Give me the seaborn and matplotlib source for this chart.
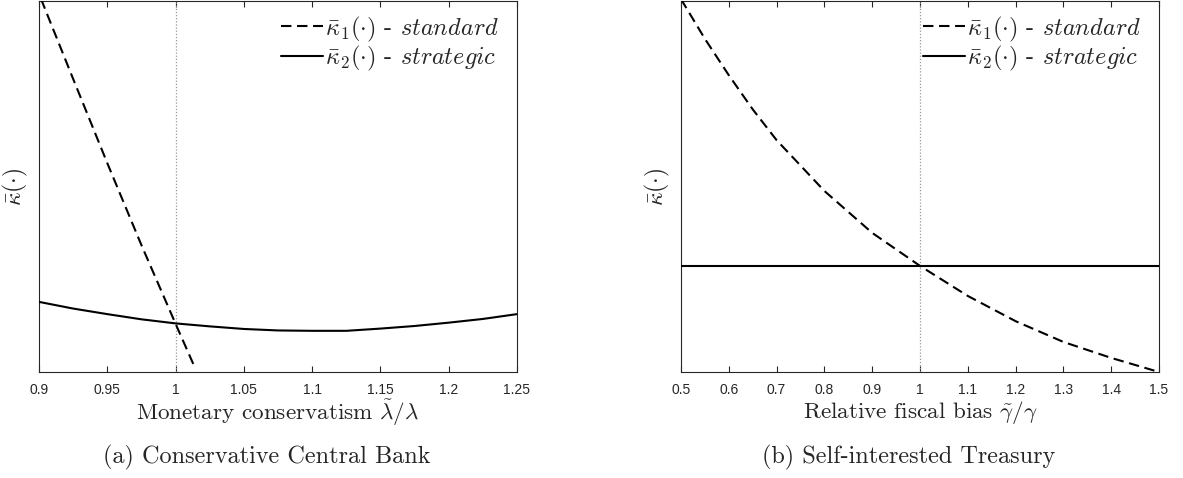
import numpy as np
import pandas as pd
import matplotlib
matplotlib.use("Agg")
import matplotlib.pyplot as plt
import seaborn as sns

# ---- data (kappa in arbitrary units, 0..1 = plot height) ----
# (a) Conservative Central Bank
cb_x_std = [0.9, 0.925, 0.95, 0.975, 1.0, 1.014]
cb_k1_std = [1.019, 0.790, 0.563, 0.342, 0.130, 0.013]
cb_x_str = [0.9, 0.925, 0.95, 0.975, 1.0, 1.025, 1.05, 1.075, 1.1, 1.125,
            1.15, 1.175, 1.2, 1.225, 1.25]
cb_k2_str = [0.189, 0.171, 0.156, 0.142, 0.131, 0.123, 0.116, 0.112, 0.111, 0.111,
             0.117, 0.124, 0.133, 0.143, 0.156]
cb_ticks = [0.9, 0.95, 1.0, 1.05, 1.1, 1.15, 1.2, 1.25]
cb_ticklabels = ["0.9", "0.95", "1", "1.05", "1.1", "1.15", "1.2", "1.25"]

# (b) Self-interested Treasury
tr_x = [0.5, 0.55, 0.6, 0.65, 0.7, 0.8, 0.9, 1.0, 1.1, 1.2, 1.3, 1.4, 1.5]
tr_k1_std = [1.005, 0.898, 0.800, 0.708, 0.625, 0.488, 0.375, 0.286, 0.205, 0.137,
             0.081, 0.038, 0.0]
tr_k2_str = [0.286] * len(tr_x)
tr_ticks = [0.5, 0.6, 0.7, 0.8, 0.9, 1.0, 1.1, 1.2, 1.3, 1.4, 1.5]
tr_ticklabels = ["0.5", "0.6", "0.7", "0.8", "0.9", "1", "1.1", "1.2", "1.3", "1.4", "1.5"]

lab_std = r"$\bar{\kappa}_1(\cdot)$ - $\mathit{standard}$"
lab_str = r"$\bar{\kappa}_2(\cdot)$ - $\mathit{strategic}$"

sns.set_style("white")
plt.rcParams["font.family"] = "serif"
plt.rcParams["font.serif"] = ["cmr10", "DejaVu Serif"]
plt.rcParams["mathtext.fontset"] = "cm"
plt.rcParams["axes.formatter.use_mathtext"] = True

W, H = 1183, 478
fig = plt.figure(figsize=(W / 100, H / 100), dpi=100)

panels = [
    dict(left=39, xs=cb_x_std, k1=cb_k1_std, xs2=cb_x_str, k2=cb_k2_str,
         xlim=(0.9, 1.25), ticks=cb_ticks, tlabels=cb_ticklabels,
         xlabel=r"Monetary conservatism $\tilde{\lambda}/\lambda$",
         caption="(a) Conservative Central Bank", cap_w=328, xl_w=284),
    dict(left=681, xs=tr_x, k1=tr_k1_std, xs2=tr_x, k2=tr_k2_str,
         xlim=(0.5, 1.5), ticks=tr_ticks, tlabels=tr_ticklabels,
         xlabel=r"Relative fiscal bias $\tilde{\gamma}/\gamma$",
         caption="(b) Self-interested Treasury", cap_w=293, xl_w=234),
]

ax_w, top_px, bot_px = 478, 1, 372
captions, xlabels = [], []

for p in panels:
    ax = fig.add_axes([p["left"] / W, 1 - bot_px / H, ax_w / W, (bot_px - top_px) / H])

    ax.axvline(1.0, color="0.6", lw=0.9, linestyle=(0, (1, 1.5)), zorder=1)

    df1 = pd.DataFrame({"x": p["xs"], "k": p["k1"]})
    df2 = pd.DataFrame({"x": p["xs2"], "k": p["k2"]})
    sns.lineplot(data=df1, x="x", y="k", ax=ax, color="black", lw=1.5,
                 linestyle=(0, (5, 2.7)), label=lab_std, zorder=3)
    sns.lineplot(data=df2, x="x", y="k", ax=ax, color="black", lw=1.5,
                 label=lab_str, zorder=3)

    ax.set_xlim(*p["xlim"])
    ax.set_ylim(0, 1)
    ax.set_xticks(p["ticks"])
    ax.set_xticklabels(p["tlabels"], fontfamily="Liberation Sans", fontsize=10, color="0.15")
    ax.set_yticks([])
    ax.tick_params(axis="x", direction="in", top=True, bottom=True, length=4.5,
                   width=0.8, color="0.15", pad=8)

    for s in ax.spines.values():
        s.set_color("0.15")
        s.set_linewidth(0.8)

    ax.set_xlabel(p["xlabel"], fontsize=16.8, va="center")
    ax.xaxis.set_label_coords(0.5, -(413 - bot_px) / (bot_px - top_px))
    ax.set_ylabel(r"$\bar{\kappa}(\cdot)$", fontsize=17)
    ax.yaxis.set_label_coords(-9 / ax_w, 0.5)

    ax.legend(loc="upper right", frameon=False, fontsize=17.5, handlelength=1.7,
              handletextpad=0.08, labelspacing=0.02, borderaxespad=0,
              bbox_to_anchor=(0.981, 0.99))

    cap = fig.text((p["left"] + ax_w / 2 - 11) / W, 1 - 457 / H, p["caption"],
                   ha="center", va="center", fontsize=18)
    captions.append((cap, p["cap_w"]))
    xlabels.append((ax.xaxis.label, p["xl_w"]))

# scale caption / axis-label sizes so their widths match the reference
fig.canvas.draw()
renderer = fig.canvas.get_renderer()
for group in (captions, xlabels):
    ratios = [w / t.get_window_extent(renderer).width for t, w in group]
    scale = float(np.mean(ratios))
    for t, _ in group:
        t.set_fontsize(t.get_fontsize() * scale)

fig.savefig("out.png", dpi=100)
